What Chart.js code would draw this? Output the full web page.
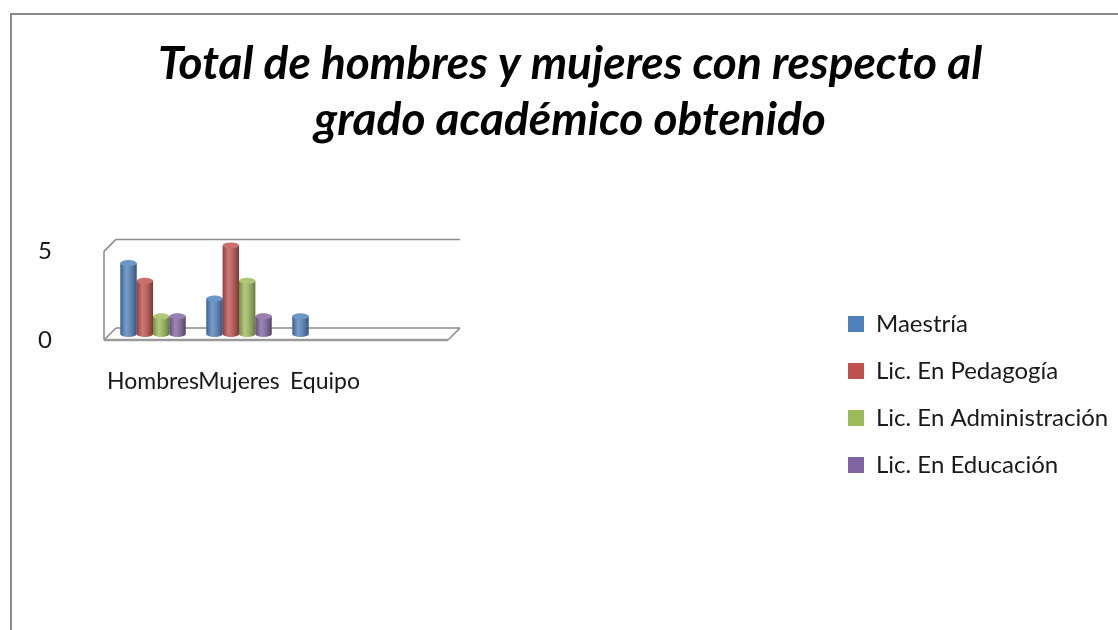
<!DOCTYPE html>
<html>
<head>
<meta charset="utf-8">
<script src="https://cdn.jsdelivr.net/npm/chart.js@4"></script>
<style>
  html, body { margin: 0; padding: 0; background: #fff; }
  body { width: 1118px; height: 630px; overflow: hidden; position: relative; }
  #marco { position: absolute; left: 10px; top: 13px; right: -5px; bottom: -5px;
           border-top: 2px solid #8a8a8a; border-left: 2px solid #8a8a8a; }
  #wrap { position: absolute; left: 12px; top: 15px; width: 1106px; height: 615px; }
</style>
</head>
<body>
<div id="marco"></div>
<div id="wrap"><canvas id="grafico"></canvas></div>
<script>
// datos
const categorias = ['Hombres', 'Mujeres', 'Equipo', ''];
const maestria = [4, 2, 1, null];
const pedagogia = [3, 5, 0, null];
const administracion = [1, 3, 0, null];
const educacion = [1, 1, 0, null];
const ticksY = [0, 5];

const colores = ['#4F81BD', '#C0504D', '#9BBB59', '#8064A2'];
const FUENTE = 'Lato, "DejaVu Sans", sans-serif';

// marco "3D" (paredes y piso) a partir de las escalas
const marco3d = {
  id: 'marco3d',
  beforeDatasetsDraw(chart) {
    const { ctx, chartArea: a, scales: { y } } = chart;
    const d = 6;
    const y0 = y.getPixelForValue(0), y5 = y.getPixelForValue(5);
    ctx.save();
    ctx.strokeStyle = '#8c8c8c';
    ctx.lineWidth = 1.5;
    ctx.beginPath();
    // pared del fondo
    ctx.moveTo(a.left + d, y0 - d); ctx.lineTo(a.right + d, y0 - d);
    ctx.moveTo(a.left + d, y5 - d); ctx.lineTo(a.right + d, y5 - d);
    ctx.moveTo(a.left + d, y5 - d); ctx.lineTo(a.left - d, y5 + d);
    ctx.lineTo(a.left - d, y0 + d);
    ctx.moveTo(a.left - d, y0 + d); ctx.lineTo(a.left + d, y0 - d);
    ctx.moveTo(a.right - d, y0 + d); ctx.lineTo(a.right + d, y0 - d);
    ctx.stroke();
    ctx.lineWidth = 2.5;
    ctx.strokeStyle = '#9a9a9a';
    ctx.beginPath();
    ctx.moveTo(a.left - d, y0 + d); ctx.lineTo(a.right - d, y0 + d);
    ctx.stroke();
    ctx.restore();
  }
};

// sombreado cilíndrico de las barras
const cilindros = {
  id: 'cilindros',
  afterDatasetsDraw(chart) {
    const ctx = chart.ctx;
    chart.data.datasets.forEach((ds, i) => {
      const meta = chart.getDatasetMeta(i);
      meta.data.forEach((bar, j) => {
        if (!ds.data[j]) return;
        const { x, y, base, width } = bar.getProps(['x', 'y', 'base', 'width'], true);
        const l = x - width / 2;
        const r = 3;
        ctx.save();
        const g = ctx.createLinearGradient(l, 0, l + width, 0);
        g.addColorStop(0, 'rgba(0,0,0,0.25)');
        g.addColorStop(0.35, 'rgba(255,255,255,0.22)');
        g.addColorStop(1, 'rgba(0,0,0,0.35)');
        // fondo redondeado
        ctx.beginPath();
        ctx.ellipse(x, base, width / 2, r, 0, 0, Math.PI);
        ctx.fillStyle = ds.backgroundColor;
        ctx.fill();
        ctx.fillStyle = g;
        ctx.fill();
        ctx.fillRect(l, y, width, base - y);
        // tapa superior
        ctx.beginPath();
        ctx.ellipse(x, y, width / 2, r, 0, 0, Math.PI * 2);
        ctx.fillStyle = ds.backgroundColor;
        ctx.fill();
        ctx.fillStyle = 'rgba(255,255,255,0.18)';
        ctx.fill();
        ctx.restore();
      });
    });
  }
};

// leyenda a la derecha, separada del área de trazado
const leyenda = {
  id: 'leyenda',
  beforeLayout(chart) {
    const lg = chart.legend;
    if (lg && !lg._fijo) {
      const fit = lg.fit;
      lg.fit = function () { fit.call(this); this.width = 664; };
      lg._fijo = true;
    }
  },
  afterLayout(chart) {
    const lg = chart.legend;
    const w = 290, h = 230;
    lg.left = 813; lg.right = lg.left + w;
    lg.top = 274; lg.bottom = lg.top + h;
  }
};

const series = [
  { label: 'Maestría', data: maestria },
  { label: 'Lic. En Pedagogía', data: pedagogia },
  { label: 'Lic. En Administración', data: administracion },
  { label: 'Lic. En Educación', data: educacion }
];

new Chart(document.getElementById('grafico'), {
  type: 'bar',
  data: {
    labels: categorias,
    datasets: series.map((s, i) => ({
      label: s.label,
      data: s.data,
      backgroundColor: colores[i],
      borderWidth: 0,
      categoryPercentage: 0.76,
      barPercentage: 1
    }))
  },
  options: {
    responsive: true,
    maintainAspectRatio: false,
    animation: false,
    layout: { padding: { left: 10, right: 0, top: 0, bottom: 234 } },
    plugins: {
      title: {
        display: true,
        text: ['Total de hombres y mujeres con respecto al', 'grado académico obtenido'],
        color: '#000',
        font: { family: FUENTE, size: 46, weight: 'bold', style: 'italic', lineHeight: 1.2 },
        padding: { top: 22, bottom: 98 }
      },
      legend: {
        position: 'right',
        align: 'start',
        labels: {
          color: '#1a1a1a',
          font: { family: FUENTE, size: 24 },
          boxWidth: 16,
          boxHeight: 16,
          padding: 23
        }
      },
      tooltip: { enabled: false }
    },
    scales: {
      x: {
        grid: { display: false, drawTicks: false },
        border: { display: false },
        afterFit: s => { s.paddingLeft = 0; s.paddingRight = 0; s.height = 62; },
        ticks: {
          autoSkip: false, maxRotation: 0, minRotation: 0,
          color: '#1a1a1a', padding: 34,
          font: { family: FUENTE, size: 23 }
        }
      },
      y: {
        min: 0, max: 5,
        afterBuildTicks: s => { s.ticks = ticksY.map(v => ({ value: v })); },
        afterFit: s => { s.paddingTop = 0; s.paddingBottom = 0; s.width = 88; },
        grid: { display: false, drawTicks: false },
        border: { display: false },
        ticks: {
          color: '#1a1a1a', padding: 58, labelOffset: 6,
          font: { family: FUENTE, size: 24 }
        }
      }
    }
  },
  plugins: [marco3d, cilindros, leyenda]
});
</script>
</body>
</html>
